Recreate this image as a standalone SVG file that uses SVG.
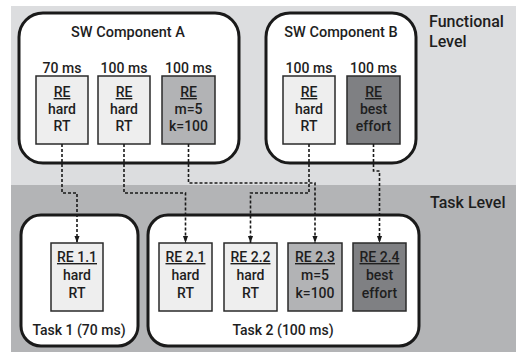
<svg xmlns="http://www.w3.org/2000/svg" width="516" height="355" viewBox="0 0 516 355">
  <defs>
    <marker id="arrowDown" markerUnits="userSpaceOnUse" markerWidth="8" markerHeight="12" refX="11" refY="4" orient="auto" viewBox="0 0 12 8">
      <path d="M0 0 L11 4 L0 8 Z" fill="#1a1a1a"/>
    </marker>
  </defs>
  <style>
    text { font-family: Roboto, "Liberation Sans", Arial, sans-serif; font-weight: 500; fill: #1e1e1e; }
    .title { font-size: 14.5px; text-anchor: middle; }
    .level { font-size: 16px; }
    .rate { font-size: 14px; text-anchor: middle; }
    .re { font-size: 14px; text-anchor: middle; }
    .u { text-decoration: underline; }
    .container { fill: #ffffff; stroke: #1a1a1a; stroke-width: 3; }
    .box { stroke: #2a2a2a; stroke-width: 1.5; }
    .light { fill: #eeeeee; }
    .mid { fill: #b2b3b5; }
    .dark { fill: #7f8083; }
    .link { fill: none; stroke: #1a1a1a; stroke-width: 1.6; stroke-dasharray: 3 2; marker-end: url(#arrowDown); }
  </style>

  <!-- level bands -->
  <rect x="11" y="6" width="505" height="179" fill="#dcdddf"/>
  <rect x="11" y="185" width="505" height="167" fill="#b3b4b6"/>
  <text class="level" x="429" y="27">Functional</text>
  <text class="level" x="429" y="47">Level</text>
  <text class="level" x="430" y="208">Task Level</text>

  <!-- software components -->
  <g id="sw-component-a">
    <rect class="container" x="19" y="13" width="220" height="150" rx="24"/>
    <text class="title" x="128" y="37">SW Component A</text>
  </g>
  <g id="sw-component-b">
    <rect class="container" x="266" y="13" width="150" height="150" rx="24"/>
    <text class="title" x="341" y="37">SW Component B</text>
  </g>

  <!-- tasks -->
  <g id="task-1">
    <rect class="container" x="21" y="215" width="117" height="131" rx="20"/>
    <text class="re" x="79" y="335">Task 1 (70 ms)</text>
  </g>
  <g id="task-2">
    <rect class="container" x="148" y="215" width="271" height="131" rx="20"/>
    <text class="re" x="283" y="335">Task 2 (100 ms)</text>
  </g>

  <!-- runnable entities, functional level -->
  <g id="re-a1">
    <text class="rate" x="62" y="73">70 ms</text>
    <rect class="box light" x="36" y="76" width="52" height="68"/>
    <text class="re u" x="62" y="97">RE</text>
    <text class="re" x="62" y="114">hard</text>
    <text class="re" x="62" y="131">RT</text>
  </g>
  <g id="re-a2">
    <text class="rate" x="124" y="73">100 ms</text>
    <rect class="box light" x="98" y="76" width="52" height="68"/>
    <text class="re u" x="124" y="97">RE</text>
    <text class="re" x="124" y="114">hard</text>
    <text class="re" x="124" y="131">RT</text>
  </g>
  <g id="re-a3">
    <text class="rate" x="188.5" y="73">100 ms</text>
    <rect class="box mid" x="162" y="76" width="53" height="68"/>
    <text class="re u" x="188.5" y="97">RE</text>
    <text class="re" x="188.5" y="114">m=5</text>
    <text class="re" x="188.5" y="131">k=100</text>
  </g>
  <g id="re-b1">
    <text class="rate" x="309" y="73">100 ms</text>
    <rect class="box light" x="283" y="76" width="52" height="68"/>
    <text class="re u" x="309" y="97">RE</text>
    <text class="re" x="309" y="114">hard</text>
    <text class="re" x="309" y="131">RT</text>
  </g>
  <g id="re-b2">
    <text class="rate" x="373.5" y="73">100 ms</text>
    <rect class="box dark" x="347" y="76" width="53" height="68"/>
    <text class="re u" x="373.5" y="97">RE</text>
    <text class="re" x="373.5" y="114">best</text>
    <text class="re" x="373.5" y="131">effort</text>
  </g>

  <!-- runnable entities, task level -->
  <g id="re-1-1">
    <rect class="box light" x="51" y="243" width="52" height="68"/>
    <text class="re u" x="77" y="262">RE 1.1</text>
    <text class="re" x="77" y="280">hard</text>
    <text class="re" x="77" y="298">RT</text>
  </g>
  <g id="re-2-1">
    <rect class="box light" x="159" y="243" width="53" height="68"/>
    <text class="re u" x="185.5" y="262">RE 2.1</text>
    <text class="re" x="185.5" y="280">hard</text>
    <text class="re" x="185.5" y="298">RT</text>
  </g>
  <g id="re-2-2">
    <rect class="box light" x="224" y="243" width="53" height="68"/>
    <text class="re u" x="250.5" y="262">RE 2.2</text>
    <text class="re" x="250.5" y="280">hard</text>
    <text class="re" x="250.5" y="298">RT</text>
  </g>
  <g id="re-2-3">
    <rect class="box mid" x="288" y="243" width="54" height="68"/>
    <text class="re u" x="315" y="262">RE 2.3</text>
    <text class="re" x="315" y="280">m=5</text>
    <text class="re" x="315" y="298">k=100</text>
  </g>
  <g id="re-2-4">
    <rect class="box dark" x="353" y="243" width="53" height="68"/>
    <text class="re u" x="379.5" y="262">RE 2.4</text>
    <text class="re" x="379.5" y="280">best</text>
    <text class="re" x="379.5" y="298">effort</text>
  </g>

  <!-- mapping of runnables to tasks -->
  <g id="connectors">
    <path class="link" d="M62 144 V193 H77 V243"/>
    <path class="link" d="M124 144 V193 H185.5 V243"/>
    <path class="link" d="M188.5 144 V183 H315 V243"/>
    <path class="link" d="M309 144 V193 H250.5 V243"/>
    <path class="link" d="M373.5 144 V171 H379.5 V243"/>
  </g>
</svg>
